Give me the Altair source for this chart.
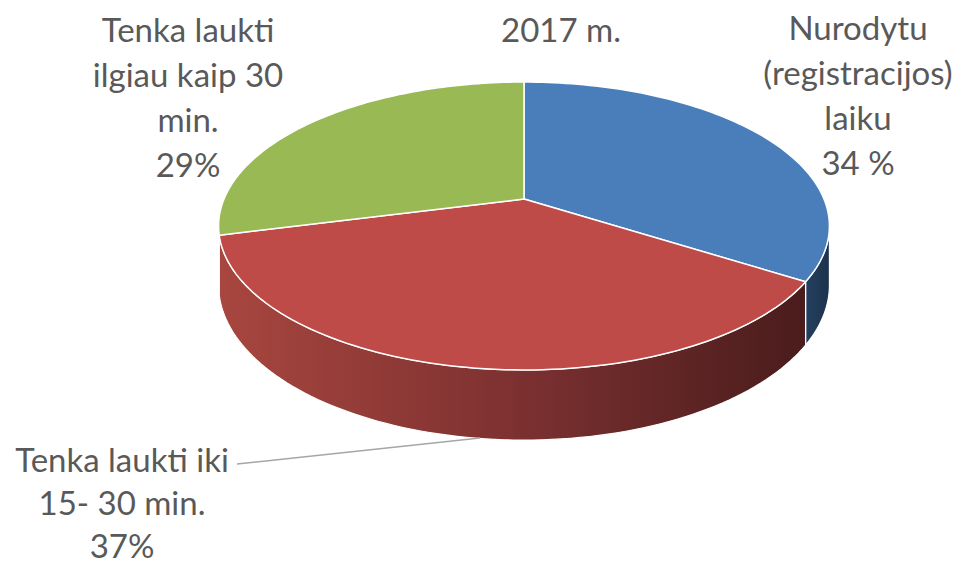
import altair as alt
import pandas as pd

# ---- data ----
categories = [
    "Nurodytu (registracijos) laiku",
    "Tenka laukti iki 15- 30 min.",
    "Tenka laukti ilgiau kaip 30 min.",
]
shares = [34, 37, 29]
slice_order = [0, 1, 2]
labels = [
    "Nurodytu\n(registracijos)\nlaiku\n34 %",
    "Tenka laukti iki\n15- 30 min.\n37%",
    "Tenka laukti\nilgiau kaip 30\nmin.\n29%",
]
title_text = "2017 m."

df = pd.DataFrame({"category": categories, "value": shares,
                   "order": slice_order, "label": labels})

# ---- styling / geometry ----
top_colors = ["#4a7ebb", "#be4b48", "#98b954"]
wall_fills = [
    alt.LinearGradient(gradient="linear", x1=0, x2=1, y1=0, y2=0,
                       stops=[alt.GradientStop(color="#24405f", offset=0),
                              alt.GradientStop(color="#1c324c", offset=1)]),
    alt.LinearGradient(gradient="linear", x1=0, x2=1, y1=0, y2=0,
                       stops=[alt.GradientStop(color="#a8463f", offset=0),
                              alt.GradientStop(color="#7d3131", offset=0.5),
                              alt.GradientStop(color="#4a1c1c", offset=1)]),
    alt.LinearGradient(gradient="linear", x1=0, x2=1, y1=0, y2=0,
                       stops=[alt.GradientStop(color="#a8463f", offset=0),
                              alt.GradientStop(color="#a8463f", offset=1)]),
]
W, HGT = 949, 560
CX, CY = 516, 191
A, B, P, DEPTH = 300, 138.9, 0.1875, 57
N = 90
FONT = "Lato"
GRAY = "#595959"

xs = alt.X("px:Q", scale=alt.Scale(domain=[0, W]), axis=None)
ys = alt.Y("py:Q", scale=alt.Scale(domain=[0, HGT], reverse=True), axis=None)


def base(cat):
    return (
        alt.Chart(df)
        .transform_joinaggregate(total="sum(value)")
        .transform_window(cum="sum(value)", sort=[alt.SortField("order")], frame=[None, 0])
        .transform_calculate(a0="2*PI*(datum.cum - datum.value)/datum.total")
        .transform_calculate(a1="2*PI*datum.cum/datum.total")
        .transform_filter(alt.datum.category == cat)
    )


def top_face(cat, color):
    return (
        base(cat)
        .transform_calculate(step=f"sequence(0, {N + 3})")
        .transform_flatten(["step"])
        .transform_calculate(
            t=f"datum.step <= {N} ? datum.a0 + (datum.a1 - datum.a0) * datum.step / {N} : datum.a0")
        .transform_calculate(r=f"datum.step == {N + 1} ? 0 : 1")
        .transform_calculate(den=f"1 + {P} * datum.r * cos(datum.t)")
        .transform_calculate(
            px=f"{CX} + datum.r * {A} * sin(datum.t) / datum.den")
        .transform_calculate(
            py=f"{CY} - datum.r * {B} * cos(datum.t) / datum.den")
        .mark_line(fill=color, stroke="white", strokeWidth=1.5, strokeJoin="round")
        .encode(x=xs, y=ys, order="step:Q")
    )


def wall(cat, fill):
    return (
        base(cat)
        .transform_calculate(b0=f"max(datum.a0, PI - acos({P}))")
        .transform_calculate(b1=f"min(datum.a1, PI + acos({P}))")
        .transform_filter("datum.b1 > datum.b0")
        .transform_calculate(step=f"sequence(0, {2 * N + 3})")
        .transform_flatten(["step"])
        .transform_calculate(
            t=(f"datum.step <= {N} ? datum.b0 + (datum.b1 - datum.b0) * datum.step / {N} : "
               f"(datum.step <= {2 * N + 1} ? datum.b1 - (datum.b1 - datum.b0) * (datum.step - {N + 1}) / {N} : datum.b0)"))
        .transform_calculate(
            d=f"(datum.step > {N} && datum.step <= {2 * N + 1}) ? {DEPTH} : 0")
        .transform_calculate(den=f"1 + {P} * cos(datum.t)")
        .transform_calculate(px=f"{CX} + {A} * sin(datum.t) / datum.den")
        .transform_calculate(py=f"{CY} + (-{B} * cos(datum.t) + datum.d) / datum.den")
        .mark_line(fill=fill, stroke="white", strokeWidth=1.2, strokeJoin="round")
        .encode(x=xs, y=ys, order="step:Q")
    )


walls = [wall(c, f) for c, f in zip(categories, wall_fills)]
tops = [top_face(c, col) for c, col in zip(categories, top_colors)]

label_pos = [(850, 32, 45), (114, 464, 43), (180, 34, 45)]
texts = [
    alt.Chart(df)
    .transform_filter(alt.datum.order == o)
    .mark_text(font=FONT, fontSize=33, color=GRAY, align="center",
               baseline="alphabetic", lineBreak="\n", lineHeight=lh)
    .encode(text="label:N", x=alt.value(px), y=alt.value(py))
    for o, (px, py, lh) in zip(slice_order, label_pos)
]

title = (
    alt.Chart(df)
    .transform_filter(alt.datum.order == 0)
    .mark_text(font=FONT, fontSize=33, color=GRAY, align="center", baseline="alphabetic")
    .encode(text=alt.value(title_text), x=alt.value(553), y=alt.value(34))
)

leader = (
    alt.Chart(df)
    .transform_filter(alt.datum.order == 1)
    .mark_rule(color="#a6a6a6", strokeWidth=1.5)
    .encode(x=alt.value(229), y=alt.value(456), x2=alt.value(472), y2=alt.value(430))
)

chart = (
    alt.layer(*walls, *tops, leader, *texts, title)
    .properties(width=W, height=HGT, padding=0, autosize="none")
    .configure_view(stroke=None)
)

chart.save("out.html", embed_options={"renderer": "svg", "actions": False})
